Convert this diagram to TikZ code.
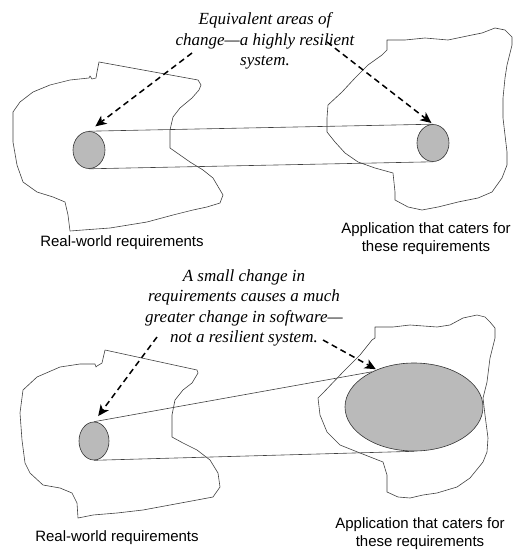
\documentclass[tikz,border=0pt]{standalone}
\usepackage{fontspec}
\setmainfont{Liberation Serif}
\newfontfamily\labelfont{Liberation Sans}
\usetikzlibrary{shapes.geometric,arrows.meta,positioning,calc}

\begin{document}
\begin{tikzpicture}[x=1pt,y=-1pt,
    blob/.style={line width=0.6pt, black!75, line join=round},
    area/.style={ellipse, draw=black!80, line width=0.6pt, fill=black!27, inner sep=0pt},
    tube/.style={line width=0.6pt, black!75},
    note/.style={font=\fontsize{17}{20.5}\selectfont\itshape, align=center},
    reqlabel/.style={font=\labelfont\fontsize{15}{18}\selectfont, align=center},
    pointer/.style={dash pattern=on 6pt off 4pt, line width=1.5pt,
        -{Stealth[length=11pt,width=10pt,inset=3pt]}}]
    \useasboundingbox (0,0) rectangle (513,551);

    % Top: equivalent change
    \draw[blob] (13,112) -- (20,102) -- (33,92) -- (50,85) -- (70,80) -- (89,78)
        -- (90,76) -- (92,79) -- (96,78) -- (97,72) -- (99,62) -- (198,80)
        -- (201,85) -- (199,90) -- (192,98) -- (180,108) -- (173,117) -- (170,130)
        -- (170,148) -- (180,155) -- (190,162) -- (203,170) -- (213,178) -- (223,195)
        -- (220,203) -- (207,207) -- (193,210) -- (173,215) -- (147,222) -- (110,228)
        -- (83,230) -- (70,231) -- (68,215) -- (65,202) -- (53,197) -- (37,192)
        -- (23,182) -- (17,165) -- (13,142) -- cycle;
    \draw[blob] (387,40) -- (387,50) -- (382,55) -- (368,65) -- (355,78) -- (342,92)
        -- (328,105) -- (327,118) -- (327,132) -- (335,142) -- (345,153) -- (358,162)
        -- (375,168) -- (393,173) -- (395,192) -- (395,200) -- (408,207) -- (422,210)
        -- (438,207) -- (458,202) -- (478,198) -- (492,192) -- (502,178) -- (507,165)
        -- (507,152) -- (505,135) -- (503,118) -- (503,98) -- (505,78) -- (507,65)
        -- (512,45) -- (512,37) -- (505,30) -- (495,28) -- (482,33) -- (472,35)
        -- (448,40) -- (425,38) -- (405,40) -- cycle;

    \node[area, minimum width=32, minimum height=37] (srcA) at (89,150) {};
    \node[area, minimum width=32, minimum height=37] (appA) at (433,143) {};
    \draw[tube] (srcA.north) -- (appA.north);
    \draw[tube] (srcA.south) -- (appA.south);

    \node[note] (noteA) at (265,41) {Equivalent areas of\\change---a highly resilient\\system.};
    \coordinate (fromA1) at (192,53);
    \coordinate (fromA2) at (327,42);
    \draw[pointer, shorten >=8pt] (fromA1) -- (srcA.north);
    \draw[pointer, shorten >=2pt] (fromA2) -- (appA.north);

    \node[reqlabel] (realA) at (122,243) {Real-world requirements};
    \node[reqlabel] (softA) at (426,239) {Application that caters for\\these requirements};

    % Bottom: much greater change
    \draw[blob] (23,390) -- (37,377) -- (60,367) -- (80,364) -- (95,364) -- (96,367)
        -- (97,366) -- (102,363) -- (105,350) -- (197,370) -- (198,373) -- (192,383)
        -- (183,390) -- (175,400) -- (172,415) -- (172,437) -- (183,443) -- (197,450)
        -- (210,460) -- (218,473) -- (220,487) -- (213,497) -- (197,500) -- (170,505)
        -- (143,510) -- (117,513) -- (93,515) -- (78,518) -- (77,503) -- (72,493)
        -- (60,488) -- (43,485) -- (30,473) -- (25,463) -- (22,440) -- (20,413) -- cycle;
    \draw[blob] (375,327) -- (375,338) -- (372,340) -- (360,355) -- (343,372) -- (323,393)
        -- (318,398) -- (320,415) -- (327,432) -- (340,445) -- (360,453) -- (383,462)
        -- (387,475) -- (387,492) -- (398,497) -- (410,498) -- (423,495) -- (437,493)
        -- (447,490) -- (457,487) -- (470,478) -- (483,462) -- (487,452) -- (488,438)
        -- (485,415) -- (483,398) -- (487,382) -- (490,358) -- (495,338) -- (495,328)
        -- (490,322) -- (485,317) -- (477,315) -- (463,318) -- (450,325) -- (437,327)
        -- (410,325) -- (393,327) -- cycle;

    \node[area, minimum width=30, minimum height=38] (srcB) at (94,441) {};
    \node[area, minimum width=138, minimum height=88] (appB) at (414,407) {};
    \draw[tube] (srcB.north) -- (appB.140);
    \draw[tube] (srcB.south) -- (appB.south);

    \node[note] (noteB) at (244,308) {A small change in\\requirements causes a much\\greater change in software---\\not a resilient system.};
    \coordinate (fromB1) at (157,337);
    \coordinate (fromB2) at (323,340);
    \draw[pointer, shorten >=7pt] (fromB1) -- (srcB.north);
    \draw[pointer, shorten >=1pt] (fromB2) -- (appB.135);

    \node[reqlabel] (realB) at (117,538) {Real-world requirements};
    \node[reqlabel] (softB) at (420,534) {Application that caters for\\these requirements};
\end{tikzpicture}
\end{document}
